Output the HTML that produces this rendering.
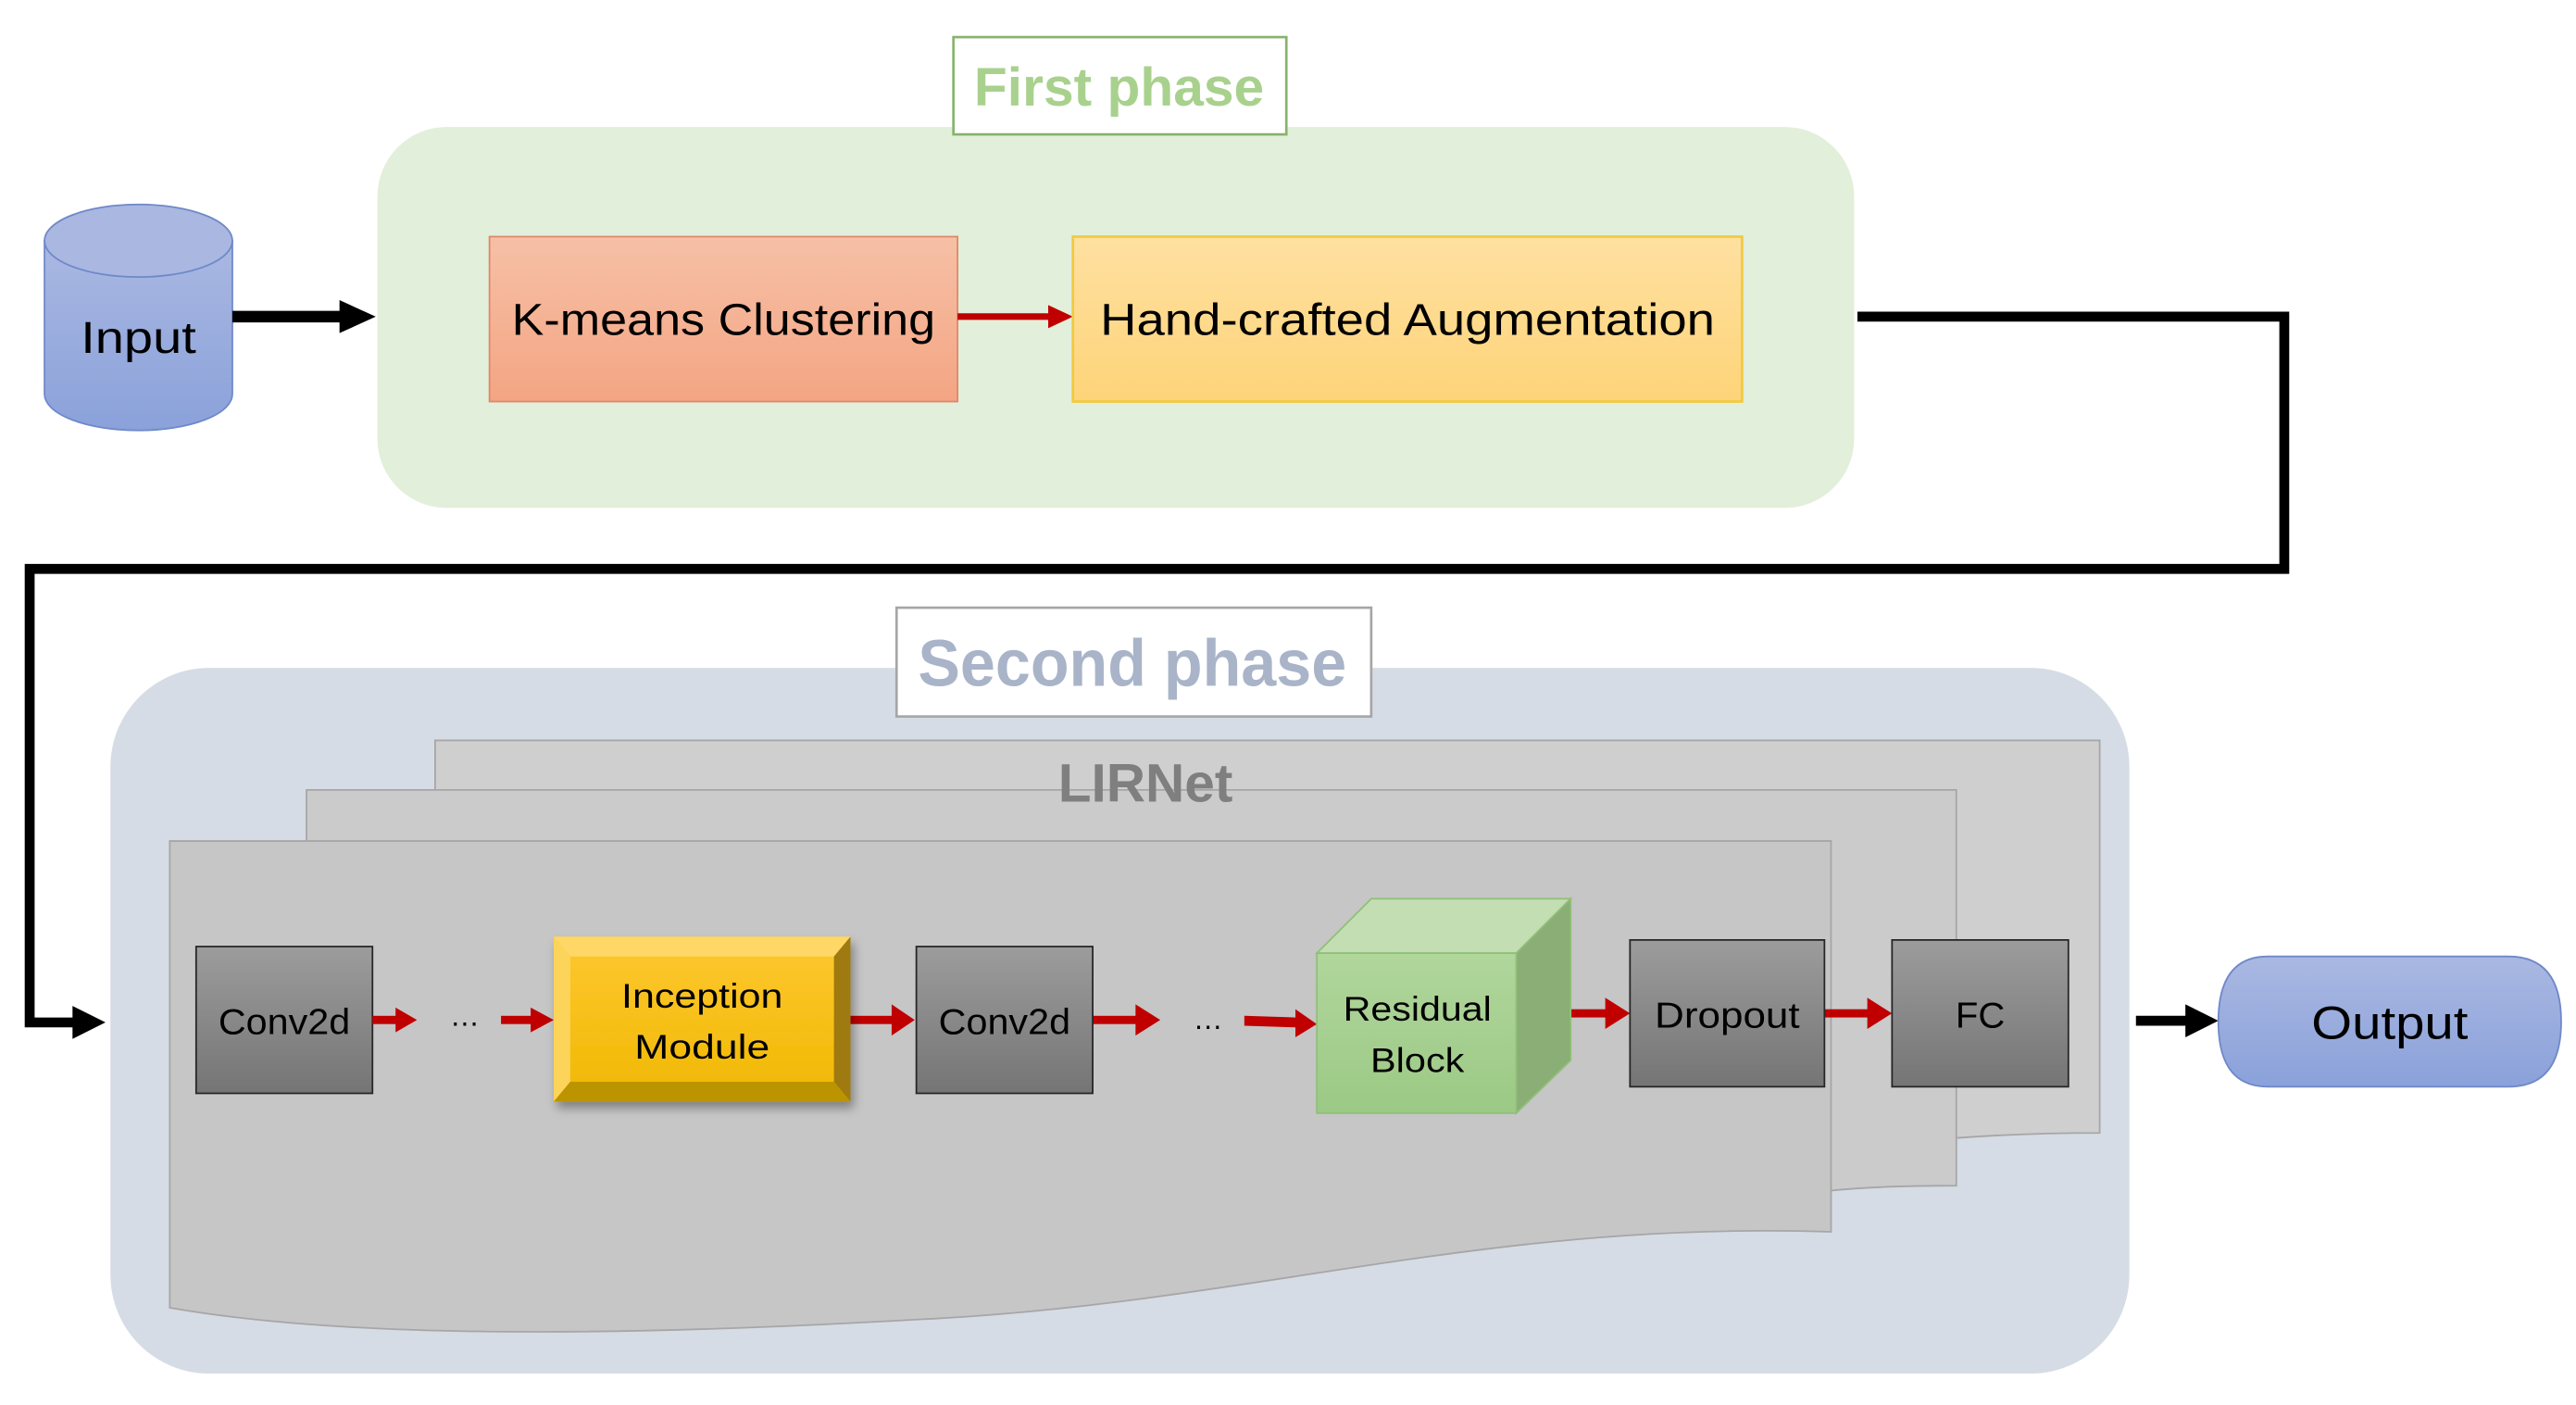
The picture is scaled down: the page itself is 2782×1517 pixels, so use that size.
<!DOCTYPE html>
<html><head><meta charset="utf-8"><style>html,body{margin:0;padding:0;background:#fff}svg{display:block}</style></head>
<body>
<svg width="2782" height="1517" viewBox="0 0 1563 852" preserveAspectRatio="none" xmlns="http://www.w3.org/2000/svg" font-family="Liberation Sans, sans-serif">
<defs>
<linearGradient id="blue" x1="0" y1="0" x2="0" y2="1"><stop offset="0" stop-color="#aab8e2"/><stop offset="1" stop-color="#8aa1da"/></linearGradient>
<linearGradient id="km" x1="0" y1="0" x2="0" y2="1"><stop offset="0" stop-color="#f6c0a6"/><stop offset="1" stop-color="#f4a583"/></linearGradient>
<linearGradient id="hc" x1="0" y1="0" x2="0" y2="1"><stop offset="0" stop-color="#fee0a0"/><stop offset="1" stop-color="#fed479"/></linearGradient>
<linearGradient id="gr" x1="0" y1="0" x2="0" y2="1"><stop offset="0" stop-color="#9c9c9c"/><stop offset="1" stop-color="#757575"/></linearGradient>
<linearGradient id="yl" x1="0" y1="0" x2="0" y2="1"><stop offset="0" stop-color="#fec832"/><stop offset="1" stop-color="#f0b800"/></linearGradient>
<linearGradient id="gn" x1="0" y1="0" x2="0" y2="1"><stop offset="0" stop-color="#b0d69c"/><stop offset="1" stop-color="#9cc985"/></linearGradient>
<filter id="sh" x="-10%" y="-10%" width="130%" height="130%"><feDropShadow dx="2" dy="4" stdDeviation="3" flood-color="#000" flood-opacity="0.35"/></filter>
</defs>

<rect x="229" y="77" width="896" height="231" rx="42" fill="#e2efda"/>
<rect x="578.5" y="22.5" width="202" height="59" fill="#fff" stroke="#86b36b" stroke-width="1.5"/>
<text x="679" y="64" text-anchor="middle" font-size="33" font-weight="bold" fill="#a9d18e" textLength="176" lengthAdjust="spacingAndGlyphs">First phase</text>

<path d="M27 146 V239 A57 22 0 0 0 141 239 V146 Z" fill="url(#blue)" stroke="#6f88c8" stroke-width="1"/>
<ellipse cx="84" cy="146" rx="57" ry="22" fill="#a9b7e1" stroke="#6f88c8" stroke-width="1"/>
<text x="84" y="214" text-anchor="middle" font-size="27" fill="#000" textLength="70" lengthAdjust="spacingAndGlyphs">Input</text>
<line x1="141" y1="192" x2="210" y2="192" stroke="#000" stroke-width="7"/>
<polygon points="206,182 228,192 206,202" fill="#000"/>

<rect x="297" y="143.5" width="284" height="100" fill="url(#km)" stroke="#e0876a" stroke-width="1"/>
<text x="439" y="203" text-anchor="middle" font-size="27" fill="#000" textLength="257" lengthAdjust="spacingAndGlyphs">K-means Clustering</text>
<line x1="581" y1="192" x2="638" y2="192" stroke="#c00000" stroke-width="4"/>
<polygon points="636,185 651,192 636,199" fill="#c00000"/>
<rect x="651" y="143.5" width="406" height="100" fill="url(#hc)" stroke="#f1c93c" stroke-width="1.5"/>
<text x="854" y="203" text-anchor="middle" font-size="27" fill="#000" textLength="373" lengthAdjust="spacingAndGlyphs">Hand-crafted Augmentation</text>

<polyline points="1127,192 1386,192 1386,345 18,345 18,620 48,620" fill="none" stroke="#000" stroke-width="6"/>
<polygon points="44,610 64,620 44,630" fill="#000"/>

<rect x="67" y="405" width="1225" height="428" rx="60" fill="#d6dce5"/>
<rect x="544" y="368.5" width="288" height="66" fill="#fff" stroke="#a6a6a6" stroke-width="1.5"/>
<text x="687" y="416" text-anchor="middle" font-size="40" font-weight="bold" fill="#a9b4c9" textLength="260" lengthAdjust="spacingAndGlyphs">Second phase</text>

<path d="M264 449 H1274 V687 Q1230 687 1188 690 L264 690 Z" fill="#cfcfcf" stroke="#a6a6a6" stroke-width="1"/>
<path d="M186 479 H1187 V719 Q1140 719 1111 722 L186 722 Z" fill="#cbcbcb" stroke="#a6a6a6" stroke-width="1"/>
<text x="695" y="486" text-anchor="middle" font-size="33" font-weight="bold" fill="#7f7f7f" textLength="106" lengthAdjust="spacingAndGlyphs">LIRNet</text>
<path d="M103 510 H1111 V747 C 900 740 760 790 560 800 C 350 812 200 810 103 793 Z" fill="#c6c6c6" stroke="#a6a6a6" stroke-width="1"/>

<rect x="119" y="574" width="107" height="89" fill="url(#gr)" stroke="#262626" stroke-width="1"/>
<text x="172.5" y="627" text-anchor="middle" font-size="22" fill="#000" textLength="80" lengthAdjust="spacingAndGlyphs">Conv2d</text>
<g fill="#c00000">
<rect x="226" y="616" width="16" height="5"/><polygon points="240,611 253,618.5 240,626"/>
<rect x="304" y="616" width="20" height="5"/><polygon points="322,611 336,618.5 322,626"/>
<rect x="516" y="616" width="28" height="5"/><polygon points="541,609 555,618.5 541,628"/>
<rect x="663" y="616" width="28" height="5"/><polygon points="689,609 704,618.5 689,628"/>
<polygon points="755,616 786,617 786,612 799,621 786,629 786,623 755,622"/>
<rect x="942" y="612" width="34" height="5"/><polygon points="974,605 989,614.5 974,624"/>
<rect x="1107" y="612" width="28" height="5"/><polygon points="1133,605 1148,614.5 1133,624"/>
</g>
<text x="282" y="622" text-anchor="middle" font-size="18" fill="#000">…</text>
<text x="733" y="624" text-anchor="middle" font-size="18" fill="#000">…</text>

<g filter="url(#sh)">
<rect x="336" y="568" width="180" height="100" fill="url(#yl)"/>
</g>
<polygon points="336,568 516,568 506,580 346,580" fill="#ffd766"/>
<polygon points="336,568 346,580 346,656 336,668" fill="#fcd45a"/>
<polygon points="516,568 516,668 506,656 506,580" fill="#9e7a10"/>
<polygon points="336,668 516,668 506,656 346,656" fill="#bc9400"/>
<text x="426" y="611" text-anchor="middle" font-size="21" fill="#000" textLength="98" lengthAdjust="spacingAndGlyphs">Inception</text>
<text x="426" y="642" text-anchor="middle" font-size="21" fill="#000" textLength="82" lengthAdjust="spacingAndGlyphs">Module</text>

<rect x="556" y="574" width="107" height="89" fill="url(#gr)" stroke="#262626" stroke-width="1"/>
<text x="609.5" y="627" text-anchor="middle" font-size="22" fill="#000" textLength="80" lengthAdjust="spacingAndGlyphs">Conv2d</text>

<polygon points="799,578 832,545 953,545 920,578" fill="#c2deb2" stroke="#8fc078" stroke-width="1"/>
<polygon points="920,578 953,545 953,643 920,675" fill="#8aae76" stroke="#8fc078" stroke-width="1"/>
<rect x="799" y="578" width="121" height="97" fill="url(#gn)" stroke="#8fc078" stroke-width="1"/>
<text x="860" y="619" text-anchor="middle" font-size="21" fill="#000" textLength="90" lengthAdjust="spacingAndGlyphs">Residual</text>
<text x="860" y="650" text-anchor="middle" font-size="21" fill="#000" textLength="57" lengthAdjust="spacingAndGlyphs">Block</text>

<rect x="989" y="570" width="118" height="89" fill="url(#gr)" stroke="#262626" stroke-width="1"/>
<text x="1048" y="623" text-anchor="middle" font-size="22" fill="#000" textLength="88" lengthAdjust="spacingAndGlyphs">Dropout</text>
<rect x="1148" y="570" width="107" height="89" fill="url(#gr)" stroke="#262626" stroke-width="1"/>
<text x="1201.5" y="623" text-anchor="middle" font-size="22" fill="#000" textLength="30" lengthAdjust="spacingAndGlyphs">FC</text>

<line x1="1296" y1="619" x2="1330" y2="619" stroke="#000" stroke-width="6"/>
<polygon points="1326,609 1346,619 1326,629" fill="#000"/>
<path d="M1376 580 H1522 Q1554 580 1554 619.5 Q1554 659 1522 659 H1376 Q1346 659 1346 619.5 Q1346 580 1376 580 Z" fill="url(#blue)" stroke="#6f88c8" stroke-width="1"/>
<text x="1450" y="630" text-anchor="middle" font-size="28" fill="#000" textLength="95" lengthAdjust="spacingAndGlyphs">Output</text>
</svg>
</body></html>
